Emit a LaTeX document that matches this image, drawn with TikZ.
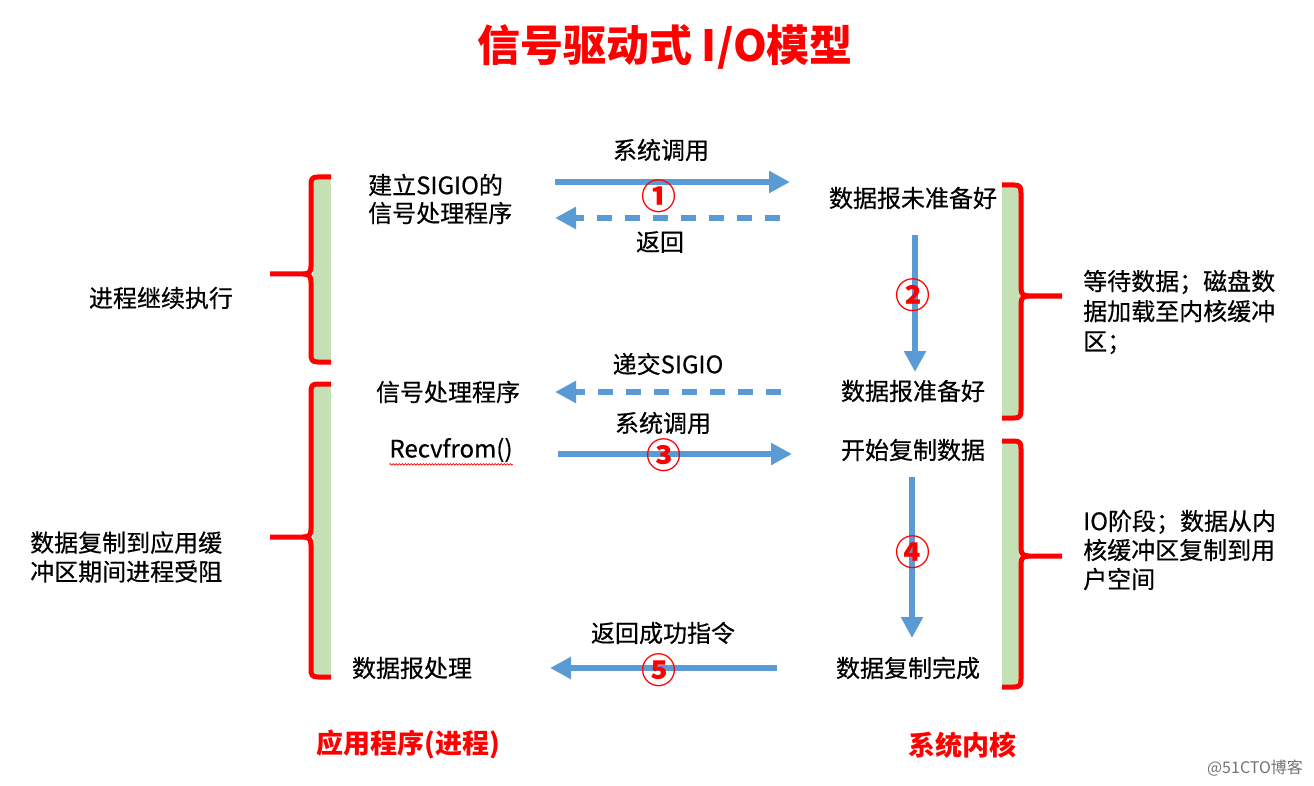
\documentclass[tikz,border=0pt]{standalone}
\usepackage{fontspec}
\setmainfont{Noto Sans CJK SC}
\newfontfamily\medfont{Noto Sans CJK SC}[FakeBold=0.5]
\usetikzlibrary{arrows.meta,decorations.pathmorphing}
\definecolor{arrblue}{HTML}{5B9BD5}
\definecolor{barGreen}{HTML}{C5E0B4}
\definecolor{brRed}{HTML}{FF0000}
\newcommand{\myLeftBrk}[4]{% x of line, top, mid, bottom
  \fill[barGreen] (#1+2,#2) rectangle (#1+20,#4);
  \draw[brk] (#1+20,#2) -- (#1+7,#2) .. controls (#1+1,#2) and (#1,#2+2) .. (#1,#2+8) -- (#1,#3-8) .. controls (#1,#3-2) and (#1-2,#3) .. (#1-8,#3) -- (#1-41,#3);
  \draw[brk] (#1-8,#3) .. controls (#1-2,#3) and (#1,#3+2) .. (#1,#3+8) -- (#1,#4-8) .. controls (#1,#4-2) and (#1+1,#4) .. (#1+7,#4) -- (#1+20,#4);
}
\newcommand{\myRightBrk}[4]{% x of line, top, mid, bottom
  \fill[barGreen] (#1-19,#2) rectangle (#1-1,#4);
  \draw[brk] (#1-19,#2) -- (#1-7,#2) .. controls (#1-1,#2) and (#1,#2+2) .. (#1,#2+8) -- (#1,#3-8) .. controls (#1,#3-2) and (#1+2,#3) .. (#1+8,#3) -- (#1+41,#3);
  \draw[brk] (#1+8,#3) .. controls (#1+2,#3) and (#1,#3+2) .. (#1,#3+8) -- (#1,#4-8) .. controls (#1,#4-2) and (#1-1,#4) .. (#1-7,#4) -- (#1-19,#4);
}
\begin{document}
\begin{tikzpicture}[x=1pt,y=-1pt,
  lbl/.style={inner sep=0pt, font=\medfont\fontsize{24}{29}\selectfont},
  redlbl/.style={inner sep=0pt, text=brRed, font=\fontsize{27}{30}\selectfont\bfseries},
  num/.style={inner sep=0pt, text=brRed, font=\fontsize{35}{35}\selectfont\bfseries},
  brk/.style={draw=brRed, line width=5pt, line cap=butt, line join=round},
  solidarr/.style={draw=arrblue, line width=6pt, -{Triangle[length=21pt,width=21pt]}},
  dasharr/.style={draw=arrblue, line width=6pt, dash pattern=on 15pt off 13pt, -{Triangle[length=21pt,width=21pt]}},
]
\useasboundingbox (0,0) rectangle (1314,786);

% title
\node[inner sep=0pt, text=brRed, font=\fontsize{43}{43}\selectfont\bfseries] (title) at (665,47) {信号驱动式 I/O模型};

% brackets
\myLeftBrk{311}{177}{274}{362}
\myLeftBrk{311}{384}{537}{677}
\myRightBrk{1021}{185}{296}{418}
\myRightBrk{1021}{441}{556}{687}

% labels
\node[lbl] (sys1) at (661,150) {系统调用};
\node[lbl, anchor=west, align=left, font=\medfont\fontsize{24}{28}\selectfont] (setup) at (368,199) {建立SIGIO的\\信号处理程序};
\node[lbl] (notready) at (913,198) {数据报未准备好};
\node[lbl] (ret) at (660,242) {返回};
\node[lbl] (cont) at (161,298) {进程继续执行};
\node[lbl, anchor=west, align=left, font=\medfont\fontsize{24}{30}\selectfont] (wait) at (1083,312) {等待数据；磁盘数\\据加载至内核缓冲\\区；};
\node[lbl] (deliver) at (668,364) {递交SIGIO};
\node[lbl] (handler) at (448,392) {信号处理程序};
\node[lbl] (ready) at (913,391) {数据报准备好};
\node[lbl] (sys2) at (663,423) {系统调用};
\node[lbl] (recv) at (451,450) {Recvfrom()};
\node[lbl] (copy) at (913,450) {开始复制数据};
\node[lbl, anchor=west, align=left] (block) at (30,557) {数据复制到应用缓\\冲区期间进程受阻};
\node[lbl, anchor=west, align=left] (io) at (1083,550) {IO阶段；数据从内\\核缓冲区复制到用\\户空间};
\node[lbl] (succ) at (663,633) {返回成功指令};
\node[lbl] (proc) at (412,668) {数据报处理};
\node[lbl] (done) at (908,668) {数据复制完成};
\node[redlbl] (app) at (408,745) {应用程序(进程)};
\node[redlbl] (kernel) at (962,745) {系统内核};
\node[inner sep=0pt, text=black!55, font=\fontsize{16}{16}\selectfont] (wm) at (1255,768) {@51CTO博客};

% spell-check underline
\draw[brRed, line width=0.7pt, decorate, decoration={snake, amplitude=0.8pt, segment length=3pt}] (recv.south west) ++(0,2) coordinate (u1) -- (recv.south east |- u1);

% arrow end points
\coordinate (a1s) at (555,182); \coordinate (a1e) at (790,182);
\coordinate (a2s) at (780,218); \coordinate (a2e) at (555,218);
\coordinate (a3s) at (915,235); \coordinate (a3e) at (915,372);
\coordinate (a4s) at (781,392); \coordinate (a4e) at (555,392);
\coordinate (a5s) at (558,454); \coordinate (a5e) at (792,454);
\coordinate (a6s) at (912,477); \coordinate (a6e) at (912,638);
\coordinate (a7s) at (777,668); \coordinate (a7e) at (550,668);

\draw[solidarr] (a1s) -- (a1e);
\draw[dasharr] (a2s) -- (a2e);
\draw[solidarr] (a3s) -- (a3e);
\draw[dasharr] (a4s) -- (a4e);
\draw[solidarr] (a5s) -- (a5e);
\draw[solidarr] (a6s) -- (a6e);
\draw[solidarr] (a7s) -- (a7e);

% step numbers
\node[num] (n1) at (659,196) {①};
\node[num] (n2) at (913,295) {②};
\node[num] (n3) at (664,455) {③};
\node[num] (n4) at (913,552) {④};
\node[num] (n5) at (659,670) {⑤};
\end{tikzpicture}
\end{document}
